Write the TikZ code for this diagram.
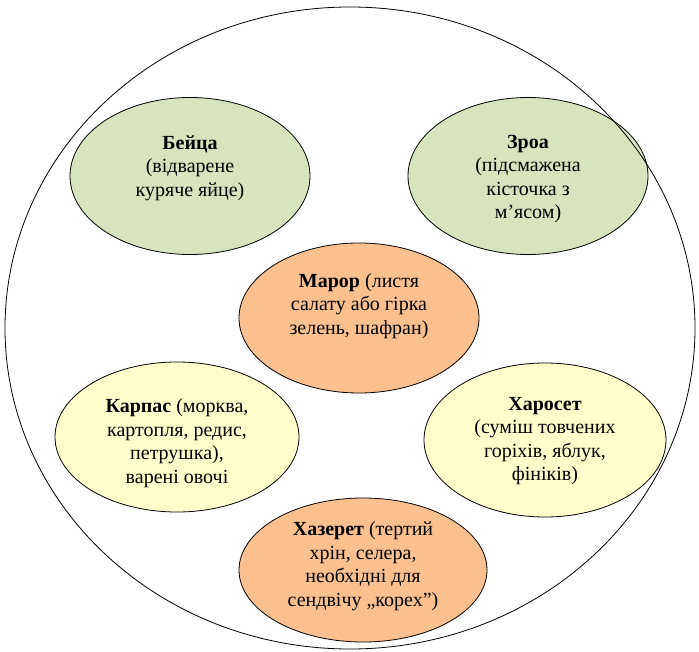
\documentclass[tikz,border=0pt]{standalone}
\usepackage{fontspec}
\setmainfont{Liberation Serif}
\usetikzlibrary{shapes.geometric, positioning}
\definecolor{dishgreen}{RGB}{215,228,189}
\definecolor{dishorange}{RGB}{250,192,144}
\definecolor{dishyellow}{RGB}{255,255,204}
\tikzset{
plate/.style={ % The big seder plate
ellipse, draw, line width=0.8pt, inner sep=0pt,
minimum width=690pt, minimum height=642pt},
dish/.style={ % Every ellipse on the plate
ellipse, draw, line width=0.8pt, inner sep=0pt, outer sep=0pt},
dishtext/.style={ % Text inside a dish
align=center, inner sep=0pt,
font=\fontsize{20}{23.5}\selectfont}}

\begin{document}
\begin{tikzpicture}[x=1pt, y=-1pt]
    \useasboundingbox (0,0) rectangle (699,652);

    \node[dish, fill=dishgreen, minimum width=240pt, minimum height=157pt] (beitsa) at (190,176) {};
    \node[dish, fill=dishgreen, minimum width=240pt, minimum height=157pt] (zroa) at (528,176) {};
    \node[dish, fill=dishorange, minimum width=240pt, minimum height=150pt] (maror) at (359,318) {};
    \node[dish, fill=dishyellow, minimum width=244pt, minimum height=150pt] (karpas) at (177,437) {};
    \node[dish, fill=dishyellow, minimum width=242pt, minimum height=154pt] (kharoset) at (545,440) {};
    \node[dish, fill=dishorange, minimum width=248pt, minimum height=144pt] (khazeret) at (363,570) {};

    \node[dishtext] (beitsa-text) at ([yshift=8pt]beitsa) {\textbf{Бейца}\\(відварене\\куряче яйце)};
    \node[dishtext] (zroa-text) at ([yshift=-3pt]zroa) {\textbf{Зроа}\\(підсмажена\\кісточка з\\м’ясом)};
    \node[dishtext] (maror-text) at ([yshift=12pt]maror) {\textbf{Марор} (листя\\салату або гірка\\зелень, шафран)};
    \node[dishtext] (karpas-text) at ([yshift=-6pt]karpas) {\textbf{Карпас} (морква,\\картопля, редис,\\петрушка),\\варені овочі};
    \node[dishtext] (kharoset-text) at ([yshift=-1pt]kharoset) {\textbf{Харосет}\\(суміш товчених\\горіхів, яблук,\\фініків)};
    \node[dishtext] (khazeret-text) at ([yshift=4pt]khazeret) {\textbf{Хазерет} (тертий\\хрін, селера,\\необхідні для\\сендвічу „корех”)};

    \node[plate] (plate) at (350,328) {};

\end{tikzpicture}
\end{document}
